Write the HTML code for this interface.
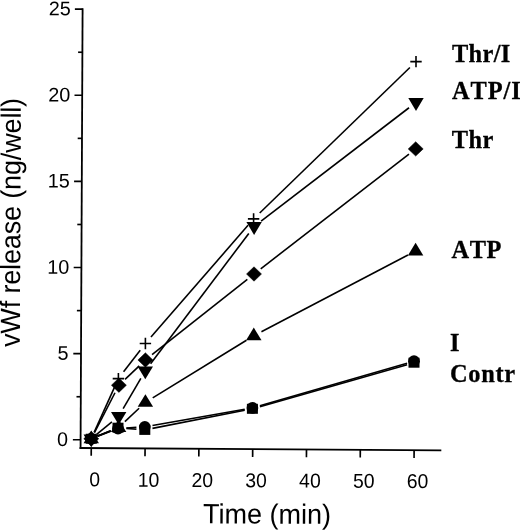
<!DOCTYPE html>
<html lang="en"><head><meta charset="utf-8"><title>vWf release vs. time</title>
<style>html,body{margin:0;padding:0;background:#fff}body{width:520px;height:530px;overflow:hidden}svg{display:block;will-change:transform}</style>
</head><body>
<svg width="520" height="530" viewBox="0 0 520 530">
<rect width="520" height="530" fill="#fff"/>
<g stroke="#000" stroke-width="1.8" fill="none" stroke-linecap="butt">
<path d="M82.6 8.3L80.55 448.9"/>
<path d="M79.65 448.0L441.3 450.3"/>
</g><g stroke="#000" stroke-width="1.65" fill="none">
<path d="M72.89 439.76L80.59 439.80"/>
<path d="M73.29 353.63L80.99 353.68"/>
<path d="M73.69 267.51L81.39 267.55"/>
<path d="M74.09 181.39L81.79 181.43"/>
<path d="M74.49 95.26L82.19 95.30"/>
<path d="M74.90 9.13L82.60 9.17"/>
<path d="M76.49 396.74L80.79 396.74"/>
<path d="M76.89 310.61L81.19 310.61"/>
<path d="M77.29 224.49L81.59 224.49"/>
<path d="M77.69 138.36L81.99 138.36"/>
<path d="M78.10 52.24L82.40 52.24"/>
<path d="M91.25 448.07L91.21 455.87"/>
<path d="M145.06 448.41L145.02 456.21"/>
<path d="M198.87 448.75L198.83 456.55"/>
<path d="M252.68 449.10L252.64 456.90"/>
<path d="M306.49 449.44L306.45 457.24"/>
<path d="M360.30 449.78L360.26 457.58"/>
<path d="M414.11 450.13L414.07 457.93"/>
</g>
<g stroke="#000" stroke-width="1.6" fill="none">
<path d="M94.13 432.37L114.90 386.35"/>
<path d="M123.58 371.86L140.22 350.24"/>
<path d="M150.97 337.08L248.03 225.32"/>
<path d="M259.71 212.99L409.89 67.51"/>
<path d="M96.66 434.31L111.90 421.79"/>
<path d="M123.15 408.61L140.85 378.39"/>
<path d="M150.60 363.77L248.80 233.43"/>
<path d="M261.09 221.05L409.01 107.75"/>
<path d="M94.46 432.53L115.00 392.75"/>
<path d="M125.06 379.34L139.24 365.86"/>
<path d="M152.06 354.72L247.34 279.28"/>
<path d="M260.72 268.80L408.98 154.10"/>
<path d="M97.72 436.09L110.65 430.77"/>
<path d="M124.88 421.62L139.12 408.28"/>
<path d="M152.73 397.90L246.47 340.30"/>
<path d="M261.42 331.81L407.98 254.99"/>
<path d="M97.79 436.27L110.71 431.37"/>
<path d="M126.38 428.04L136.42 427.36"/>
<path d="M152.48 425.45L244.72 409.25"/>
<path d="M259.89 405.73L407.08 363.20"/>
<path d="M97.72 436.08L110.79 430.68"/>
<path d="M126.37 428.39L136.43 429.21"/>
<path d="M152.45 428.40L244.75 410.30"/>
<path d="M259.90 406.66L407.08 364.68"/>
</g>
<g fill="#000" stroke="none">
<path d="M85.55 438.75H96.95M91.25 433.05V444.45" stroke="#000" stroke-width="1.6" fill="none"/>
<path d="M112.70 378.60H124.10M118.40 372.90V384.30" stroke="#000" stroke-width="1.6" fill="none"/>
<path d="M139.70 343.50H151.10M145.40 337.80V349.20" stroke="#000" stroke-width="1.6" fill="none"/>
<path d="M247.90 218.90H259.30M253.60 213.20V224.60" stroke="#000" stroke-width="1.6" fill="none"/>
<path d="M410.30 61.60H421.70M416.00 55.90V67.30" stroke="#000" stroke-width="1.6" fill="none"/>
<path d="M83.55 434.45H98.95L91.25 447.25Z"/>
<path d="M111.00 411.90H126.40L118.70 424.70Z"/>
<path d="M137.60 366.50H153.00L145.30 379.30Z"/>
<path d="M246.40 222.10H261.80L254.10 234.90Z"/>
<path d="M408.30 98.10H423.70L416.00 110.90Z"/>
<path d="M83.75 438.75L91.25 431.55L98.75 438.75L91.25 445.95Z" stroke="#000" stroke-width="0.5" stroke-linejoin="round"/>
<path d="M111.40 385.20L118.90 378.00L126.40 385.20L118.90 392.40Z" stroke="#000" stroke-width="0.5" stroke-linejoin="round"/>
<path d="M137.90 360.00L145.40 352.80L152.90 360.00L145.40 367.20Z" stroke="#000" stroke-width="0.5" stroke-linejoin="round"/>
<path d="M246.50 274.00L254.00 266.80L261.50 274.00L254.00 281.20Z" stroke="#000" stroke-width="0.5" stroke-linejoin="round"/>
<path d="M408.20 148.90L415.70 141.70L423.20 148.90L415.70 156.10Z" stroke="#000" stroke-width="0.5" stroke-linejoin="round"/>
<path d="M83.55 443.15H98.95L91.25 430.55Z"/>
<path d="M110.90 431.90H126.30L118.60 419.30Z"/>
<path d="M137.70 406.80H153.10L145.40 394.20Z"/>
<path d="M246.10 340.20H261.50L253.80 327.60Z"/>
<path d="M407.90 255.40H423.30L415.60 242.80Z"/>
<circle cx="91.25" cy="438.75" r="5.85"/>
<circle cx="118.00" cy="428.60" r="5.85"/>
<circle cx="144.80" cy="426.80" r="5.85"/>
<circle cx="252.40" cy="407.90" r="5.85"/>
<circle cx="414.00" cy="361.20" r="5.85"/>
<rect x="85.75" y="433.75" width="11" height="10"/>
<rect x="112.50" y="422.70" width="11" height="10"/>
<rect x="139.30" y="424.90" width="11" height="10"/>
<rect x="246.90" y="403.80" width="11" height="10"/>
<rect x="408.50" y="357.70" width="11" height="10"/>
</g>
<g font-family="'Liberation Sans', Arial, sans-serif" font-size="19.8" fill="#000">
<text transform="translate(94.65 486.40) rotate(0.3) scale(1 1.04)" text-anchor="middle" font-size="19.4">0</text>
<text transform="translate(148.46 486.69) rotate(0.3) scale(1 1.04)" text-anchor="middle" font-size="19.4">10</text>
<text transform="translate(202.27 486.97) rotate(0.3) scale(1 1.04)" text-anchor="middle" font-size="19.4">20</text>
<text transform="translate(256.08 487.25) rotate(0.3) scale(1 1.04)" text-anchor="middle" font-size="19.4">30</text>
<text transform="translate(309.89 487.54) rotate(0.3) scale(1 1.04)" text-anchor="middle" font-size="19.4">40</text>
<text transform="translate(363.70 487.82) rotate(0.3) scale(1 1.04)" text-anchor="middle" font-size="19.4">50</text>
<text transform="translate(417.51 488.10) rotate(0.3) scale(1 1.04)" text-anchor="middle" font-size="19.4">60</text>
<text transform="translate(68.11 446.05) rotate(0.3) scale(1 1.0)" text-anchor="end">0</text>
<text transform="translate(68.63 359.93) rotate(0.3) scale(1 1.0)" text-anchor="end">5</text>
<text transform="translate(69.15 273.80) rotate(0.3) scale(1 1.0)" text-anchor="end">10</text>
<text transform="translate(69.66 187.68) rotate(0.3) scale(1 1.0)" text-anchor="end">15</text>
<text transform="translate(70.18 101.55) rotate(0.3) scale(1 1.0)" text-anchor="end">20</text>
<text transform="translate(70.70 15.42) rotate(0.3) scale(1 1.0)" text-anchor="end">25</text>
</g>
<g font-family="'Liberation Sans', Arial, sans-serif" font-size="27" fill="#000">
<text transform="translate(203.10 523.30) rotate(0.3) scale(1 1.035)" text-anchor="start">Time (min)</text>
<text transform="translate(19.85 347.00) rotate(-89.76) scale(1 1.035)" text-anchor="start" textLength="249.1" lengthAdjust="spacing">vWf release (ng/well)</text>
</g>
<g font-family="'Liberation Serif', 'Times New Roman', serif" font-weight="bold" font-size="24.4" fill="#000" stroke="#000" stroke-width="0.3" style="font-kerning:none">
<text transform="translate(452.00 62.40) rotate(0) scale(1 1.05)" text-anchor="start" letter-spacing="0.35">Thr/I</text>
<text transform="translate(452.00 99.20) rotate(0) scale(1 1.05)" text-anchor="start" letter-spacing="0.95">ATP/I</text>
<text transform="translate(451.80 148.00) rotate(0) scale(1 1.05)" text-anchor="start" letter-spacing="0.4">Thr</text>
<text transform="translate(451.50 258.20) rotate(0) scale(1 1.05)" text-anchor="start" letter-spacing="0.55">ATP</text>
<text transform="translate(450.10 351.20) rotate(0) scale(1 1.05)" text-anchor="start">I</text>
<text transform="translate(450.10 381.90) rotate(0) scale(1 1.05)" text-anchor="start" letter-spacing="0.65">Contr</text>
</g>
</svg>
</body></html>
